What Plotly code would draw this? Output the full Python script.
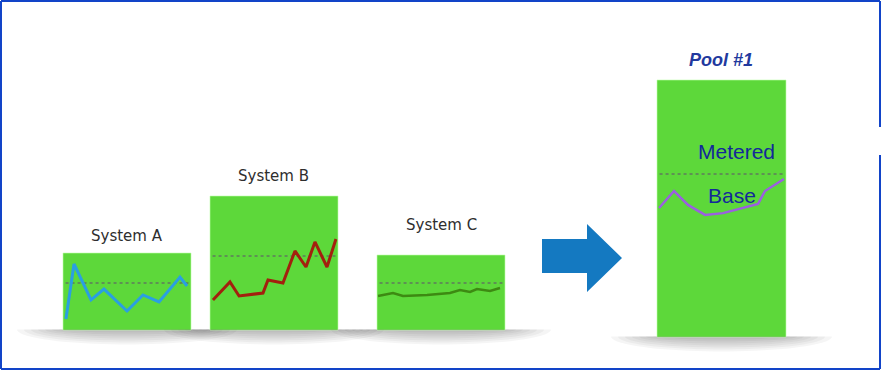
import math
import plotly.graph_objects as go

W, H = 881, 370

# --- data: readings for each system on a 0-100 scale within its own panel ---
sys_a_x = [2.3, 8.6, 21.9, 32.0, 50.0, 62.5, 75.0, 91.4, 96.9]
sys_a_y = [14.3, 85.7, 39.0, 53.2, 24.7, 45.5, 36.4, 68.8, 57.1]

sys_b_x = [2.3, 15.6, 22.7, 41.4, 45.3, 57.0, 66.4, 75.0, 82.0, 91.4, 98.4]
sys_b_y = [22.4, 35.8, 25.4, 27.6, 37.3, 35.1, 59.0, 47.0, 65.7, 47.0, 67.9]

sys_c_x = [0.8, 12.5, 20.3, 39.1, 57.0, 64.8, 72.7, 78.1, 88.3, 96.1]
sys_c_y = [45.3, 49.3, 45.3, 46.7, 49.3, 53.3, 50.7, 54.7, 52.0, 56.0]

pool_x = [1.6, 13.2, 24.0, 37.2, 51.2, 64.3, 78.3, 83.7, 98.4]
pool_y = [50.2, 56.8, 51.4, 47.5, 48.2, 49.8, 51.8, 56.8, 61.5]

# metered (dotted) level per panel
metered_levels = [61.0, 55.2, 62.7, 63.4]

panel_titles = ["System A", "System B", "System C", "Pool #1"]
pool_labels = ["Metered", "Base"]
pool_label_pos = [(62.0, 72.0), (58.0, 54.9)]

# --- panel geometry in pixels: (left, top, right, bottom) ---
panels = [
    (63, 253, 191, 330),
    (210, 196, 338, 330),
    (377, 255, 505, 330),
    (657, 80, 786, 337),
]
title_pos = [(127, 236), (273, 176), (441, 225), (721, 60)]
series = [
    (sys_a_x, sys_a_y, "#2a9fe2", 3),
    (sys_b_x, sys_b_y, "#a3200e", 3),
    (sys_c_x, sys_c_y, "#3d8a12", 2.5),
    (pool_x, pool_y, "#9b5fe0", 2.5),
]
GREEN = "#5dd83a"


def px(x):
    return x / W


def py(y):
    return 1 - y / H


def half_ellipse(cx, top, hw, hh, steps=40):
    pts = []
    for s in range(steps + 1):
        a = math.pi * s / steps
        pts.append((cx - hw * math.cos(a), top + hh * math.sin(a)))
    return "M " + " L ".join(f"{px(x):.5f},{py(y):.5f}" for x, y in pts) + " Z"


fig = go.Figure()
shapes = []
annotations = []
layout_axes = {}

for i, ((l, t, r, b), (xs, ys, col, lw)) in enumerate(zip(panels, series)):
    n = "" if i == 0 else str(i + 1)
    xa, ya = "x" + n, "y" + n
    layout_axes["xaxis" + n] = dict(
        domain=[px(l), px(r)], range=[0, 100], visible=False,
        fixedrange=True, anchor=ya)
    layout_axes["yaxis" + n] = dict(
        domain=[py(b), py(t)], range=[0, 100], visible=False,
        fixedrange=True, anchor=xa)

    # soft drop shadow just under the panel
    cx = (l + r) / 2
    hw = (r - l) / 2
    for k in range(7):
        shapes.append(dict(
            type="path", xref="paper", yref="paper", layer="below",
            path=half_ellipse(cx, b - 0.5, hw + 4 + 7 * k, 3 + 2 * k),
            fillcolor="rgba(0,0,0,0.04)", line=dict(width=0)))

    # metered dotted level
    shapes.append(dict(
        type="line", xref=xa + " domain", yref=ya, x0=0.02, x1=0.98,
        y0=metered_levels[i], y1=metered_levels[i], layer="below",
        line=dict(color="rgba(95,115,95,0.7)", width=2, dash="dot")))

    # light rim on the panel edge
    shapes.append(dict(
        type="rect", xref=xa + " domain", yref=ya + " domain",
        x0=0, x1=1, y0=0, y1=1,
        line=dict(color="rgba(190,255,170,0.6)", width=1)))

    fig.add_trace(go.Scatter(
        x=xs, y=ys, xaxis=xa, yaxis=ya, mode="lines",
        line=dict(color=col, width=lw), hoverinfo="skip", showlegend=False))

    tx, ty = title_pos[i]
    if i < 3:
        annotations.append(dict(
            x=px(tx), y=py(ty), xref="paper", yref="paper", text=panel_titles[i],
            showarrow=False, xanchor="center", yanchor="middle",
            font=dict(family="DejaVu Sans", size=15, color="#2e2e2e")))
    else:
        annotations.append(dict(
            x=px(tx), y=py(ty), xref="paper", yref="paper",
            text="<b><i>" + panel_titles[i] + "</i></b>",
            showarrow=False, xanchor="center", yanchor="middle",
            font=dict(family="Liberation Sans", size=18, color="#22399e")))

# labels inside the pool panel
for txt, (lx, ly) in zip(pool_labels, pool_label_pos):
    annotations.append(dict(
        x=lx, y=ly, xref="x4", yref="y4", text=txt, showarrow=False,
        xanchor="center", yanchor="middle",
        font=dict(family="Liberation Sans", size=21, color="#13289a")))

# arrow from the systems to the pool
arrow_pts = [(542, 239), (587, 239), (587, 224), (622, 258),
             (587, 292), (587, 273), (542, 273)]
path = "M " + " L ".join(f"{px(x):.5f},{py(y):.5f}" for x, y in arrow_pts) + " Z"
shapes.append(dict(type="path", xref="paper", yref="paper", path=path,
                   fillcolor="#1479c1", line=dict(width=0)))

# frame (the right edge has a short break)
frame_col = "#1244c8"
for (x0, y0, x1, y1) in [(1, 1, 880, 1), (1, 369, 880, 369), (1, 1, 1, 369),
                         (880, 1, 880, 127), (880, 155, 880, 369)]:
    shapes.append(dict(type="line", xref="paper", yref="paper",
                       x0=px(x0), y0=py(y0), x1=px(x1), y1=py(y1),
                       line=dict(color=frame_col, width=2)))

fig.update_layout(
    width=W, height=H, margin=dict(l=0, r=0, t=0, b=0),
    paper_bgcolor="white", plot_bgcolor=GREEN,
    shapes=shapes, annotations=annotations, showlegend=False,
    **layout_axes)

fig.write_html("out.html", config={"displayModeBar": False})
